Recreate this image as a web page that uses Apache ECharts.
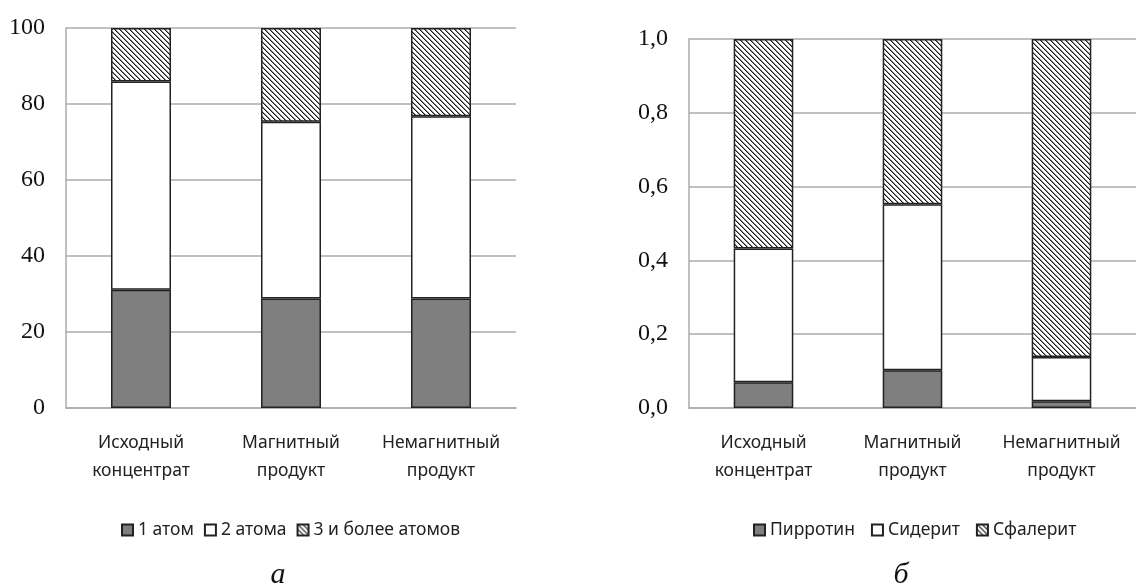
<!DOCTYPE html>
<html>
<head>
<meta charset="utf-8">
<script src="https://cdn.jsdelivr.net/npm/echarts@6/dist/echarts.min.js"></script>
<style>
  html, body { margin: 0; padding: 0; background: #fff; }
  #chart { width: 1136px; height: 587px; }
</style>
</head>
<body>
<div id="chart"></div>
<script>
// Categories shared by both panels
const categories = ['Исходный\nконцентрат', 'Магнитный\nпродукт', 'Немагнитный\nпродукт'];

// Panel "а": share of particles by number of atoms, %
const atomNames = ['1 атом', '2 атома', '3 и более атомов'];
const oneAtom = [31.1, 28.8, 28.8];
const twoAtoms = [54.8, 46.5, 48.0];
const threePlusAtoms = [14.1, 24.7, 23.2];
const ticksA = [0, 20, 40, 60, 80, 100];

// Panel "б": mineral fractions
const mineralNames = ['Пирротин', 'Сидерит', 'Сфалерит'];
const pyrrhotite = [0.07, 0.102, 0.018];
const siderite = [0.362, 0.45, 0.12];
const sphalerite = [0.568, 0.448, 0.862];
const ticksB = [0, 0.2, 0.4, 0.6, 0.8, 1.0];

// Diagonal hatch tile for the upper segments
function hatchPattern() {
  const n = 5;
  const c = document.createElement('canvas');
  c.width = n; c.height = n;
  const g = c.getContext('2d');
  g.fillStyle = '#fff';
  g.fillRect(0, 0, n, n);
  for (let i = 0; i < n; i++) {
    g.fillStyle = '#1a1a1a';
    g.fillRect(i, i, 1, 1);
    g.fillStyle = '#8a8a8a';
    g.fillRect((i + 1) % n, i, 1, 1);
  }
  return { image: c, repeat: 'repeat' };
}
const hatch = hatchPattern();

const gridColor = '#ababab';
const edge = '#222';
const dark = '#7f7f7f';

function fills(i) {
  return [dark, '#ffffff', hatch][i];
}

function yAxisFor(gridIndex, ticks, fmt) {
  return {
    type: 'value', gridIndex,
    min: ticks[0], max: ticks[ticks.length - 1],
    interval: ticks[1] - ticks[0],
    axisLine: { show: true, lineStyle: { color: gridColor, width: 1.5 } },
    axisTick: { show: false },
    splitLine: { lineStyle: { color: gridColor, width: 1.5 } },
    axisLabel: {
      margin: 21, color: '#111',
      fontFamily: 'Liberation Serif', fontSize: 24,
      formatter: fmt
    }
  };
}

function xAxisFor(gridIndex) {
  return {
    type: 'category', gridIndex, data: categories,
    axisLine: { lineStyle: { color: gridColor, width: 1.5 } },
    axisTick: { show: false },
    axisLabel: {
      margin: 21, color: '#222', interval: 0,
      fontFamily: 'Noto Sans', fontSize: 17.5, lineHeight: 28
    }
  };
}

function barSeries(name, data, idx, axisIdx) {
  return {
    type: 'bar', name, data, stack: 's' + axisIdx,
    xAxisIndex: axisIdx, yAxisIndex: axisIdx,
    barWidth: '40%',
    itemStyle: { color: fills(idx), borderColor: edge, borderWidth: 1.5 },
    emphasis: { disabled: true },
    animation: false
  };
}

const legendText = { fontFamily: 'Noto Sans', fontSize: 17.5, color: '#222' };

const option = {
  backgroundColor: '#fff',
  animation: false,
  grid: [
    { left: 66, top: 28, width: 450, height: 380 },
    { left: 689, top: 39, width: 457, height: 369 }
  ],
  xAxis: [xAxisFor(0), xAxisFor(1)],
  yAxis: [
    yAxisFor(0, ticksA, v => String(v)),
    yAxisFor(1, ticksB, v => v.toFixed(1).replace('.', ','))
  ],
  legend: [
    {
      data: atomNames, left: 116, top: 516,
      itemWidth: 11, itemHeight: 11, itemGap: 10,
      icon: 'rect', textStyle: legendText, selectedMode: false
    },
    {
      data: mineralNames, left: 748, top: 516,
      itemWidth: 11, itemHeight: 11, itemGap: 16,
      icon: 'rect', textStyle: legendText, selectedMode: false
    }
  ],
  series: [
    barSeries(atomNames[0], oneAtom, 0, 0),
    barSeries(atomNames[1], twoAtoms, 1, 0),
    barSeries(atomNames[2], threePlusAtoms, 2, 0),
    barSeries(mineralNames[0], pyrrhotite, 0, 1),
    barSeries(mineralNames[1], siderite, 1, 1),
    barSeries(mineralNames[2], sphalerite, 2, 1)
  ],
  graphic: [
    { type: 'text', x: 278, y: 575, style: { text: 'а', fill: '#111', font: 'italic 30px "Liberation Serif"', align: 'center', verticalAlign: 'middle' } },
    { type: 'text', x: 901, y: 575, style: { text: 'б', fill: '#111', font: 'italic 30px "Liberation Serif"', align: 'center', verticalAlign: 'middle' } }
  ]
};

const chart = echarts.init(document.getElementById('chart'), null, { renderer: 'canvas' });
chart.setOption(option);
</script>
</body>
</html>
